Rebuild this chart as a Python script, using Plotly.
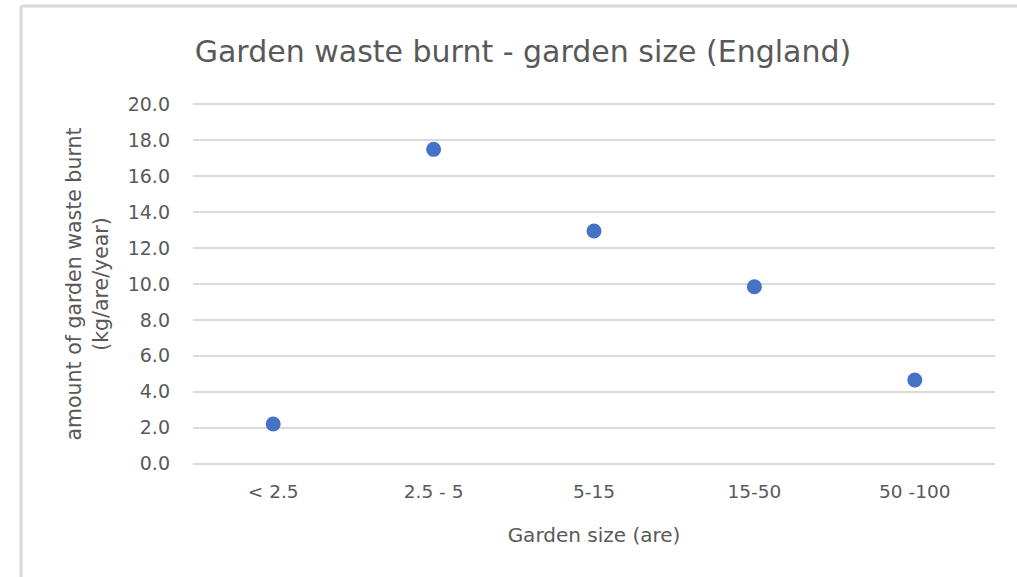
import plotly.graph_objects as go

categories = ["< 2.5", "2.5 - 5", "5-15", "15-50", "50 -100"]
values = [2.2, 17.5, 12.95, 9.85, 4.65]
y_ticks = [0, 2, 4, 6, 8, 10, 12, 14, 16, 18, 20]

FONT = "DejaVu Sans, sans-serif"
GRID = "#d9d9d9"
TEXT = "#595959"

fig = go.Figure()
fig.add_trace(go.Scatter(
    x=categories, y=values, mode="markers",
    marker=dict(color="#4472C4", size=15),
    showlegend=False,
))

W, H = 1017, 577
L, R, T, B = 193, 22, 103, 112
pw, ph = W - L - R, H - T - B

fig.update_layout(
    width=W, height=H,
    margin=dict(l=L, r=R, t=T, b=B),
    paper_bgcolor="white", plot_bgcolor="white",
    font=dict(family=FONT, color=TEXT, size=19),
    title=dict(text="Garden waste burnt - garden size (England)",
               x=523 / W, xanchor="center", y=1 - 51 / H, yanchor="middle",
               yref="container",
               font=dict(size=30, color=TEXT, family=FONT)),
    xaxis=dict(type="category", range=[-0.5, 4.5], showgrid=False,
               showline=False, zeroline=False, ticks="",
               ticklabelstandoff=13,
               tickfont=dict(size=18.5, color=TEXT),
               title=dict(text="Garden size (are)", standoff=27,
                          font=dict(size=20, color=TEXT))),
    yaxis=dict(range=[-0.08, 20.08], tickvals=y_ticks,
               ticktext=[f"{v:.1f}" for v in y_ticks],
               showgrid=True, gridcolor=GRID, gridwidth=2,
               zeroline=False, showline=False, ticks="",
               ticklabelstandoff=22,
               tickfont=dict(size=19, color=TEXT),
               title=dict(text="amount of garden waste burnt<br>(kg/are/year)",
                          standoff=13, font=dict(size=20.5, color=TEXT))),
)

# outer chart-area border (left and top edges visible)
bx = (21 - L) / pw
by = 1 + (T - 6) / ph
fig.add_shape(type="line", xref="paper", yref="paper",
              x0=bx, x1=bx, y0=-(B + 10) / ph, y1=by,
              line=dict(color=GRID, width=3))
fig.add_shape(type="line", xref="paper", yref="paper",
              x0=bx, x1=1 + (R + 10) / pw, y0=by, y1=by,
              line=dict(color=GRID, width=3))

fig.write_html("out.html",
               config={"displayModeBar": False},
               post_script="document.body.style.margin='0';document.body.style.overflow='hidden';")
